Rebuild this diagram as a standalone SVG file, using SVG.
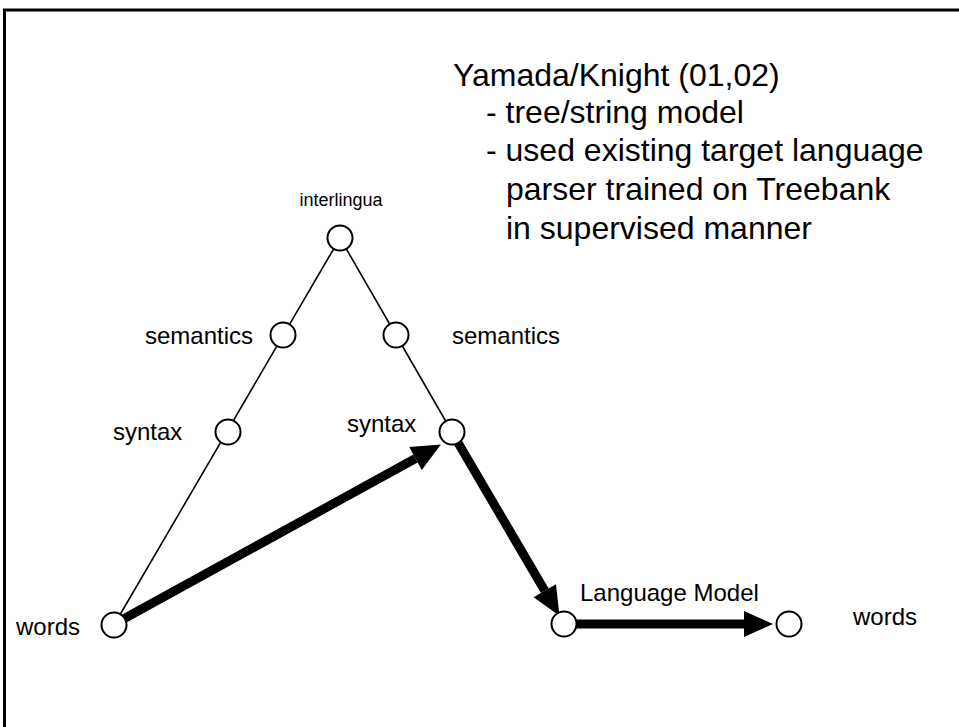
<svg xmlns="http://www.w3.org/2000/svg" width="959" height="727" viewBox="0 0 959 727">
<style>
text{font-family:"Liberation Sans",Arial,sans-serif;fill:#000}
.lbl{font-size:24px}
.title{font-size:32px}
.node circle{fill:#fff;stroke:#000;stroke-width:2}
.thin{stroke:#000;stroke-width:1.6;fill:none}
.thick{stroke:#000;stroke-width:9;fill:none;marker-end:url(#ah)}
</style>
<defs>
<marker id="ah" markerUnits="userSpaceOnUse" markerWidth="30" markerHeight="28" refX="0" refY="13" orient="auto" overflow="visible">
<path d="M0,0 L29,13 L0,26 z" fill="#000"/>
</marker>
</defs>
<rect width="959" height="727" fill="#fff"/>
<path d="M4.5,727 V10 H959" fill="none" stroke="#000" stroke-width="3"/>
<g id="notes">
<text class="title" x="453" y="86">Yamada/Knight (01,02)</text>
<text class="title" x="486" y="123">- tree/string model</text>
<text class="title" x="486" y="161">- used existing target language</text>
<text class="title" x="506" y="200">parser trained on Treebank</text>
<text class="title" x="506" y="239">in supervised manner</text>
</g>
<g id="connectors">
<line class="thin" x1="340" y1="238" x2="114" y2="625"/>
<line class="thin" x1="340" y1="238" x2="452" y2="432"/>
<line class="thick" x1="118" y1="622" x2="415.5" y2="458.5"/>
<line class="thick" x1="457" y1="441" x2="544.8" y2="590.8"/>
<line class="thick" x1="572" y1="624" x2="744" y2="624"/>
</g>
<g id="interlingua" class="node"><circle cx="340" cy="238" r="12.5"/><text x="341" y="206" text-anchor="middle" style="font-size:18px">interlingua</text></g>
<g id="semantics-left" class="node"><circle cx="283" cy="335" r="12.5"/><text class="lbl" x="145" y="344">semantics</text></g>
<g id="semantics-right" class="node"><circle cx="396" cy="335" r="12.5"/><text class="lbl" x="452" y="344">semantics</text></g>
<g id="syntax-left" class="node"><circle cx="228" cy="432" r="12.5"/><text class="lbl" x="113" y="440">syntax</text></g>
<g id="syntax-right" class="node"><circle cx="452" cy="432" r="12.5"/><text class="lbl" x="347" y="432">syntax</text></g>
<g id="words-left" class="node"><circle cx="114" cy="625" r="12.5"/><text class="lbl" x="16" y="635">words</text></g>
<g id="language-model" class="node"><circle cx="564" cy="624" r="12.5"/><text class="lbl" x="580" y="601">Language Model</text></g>
<g id="words-right" class="node"><circle cx="789" cy="624" r="12.5"/><text class="lbl" x="853" y="625">words</text></g>
</svg>
